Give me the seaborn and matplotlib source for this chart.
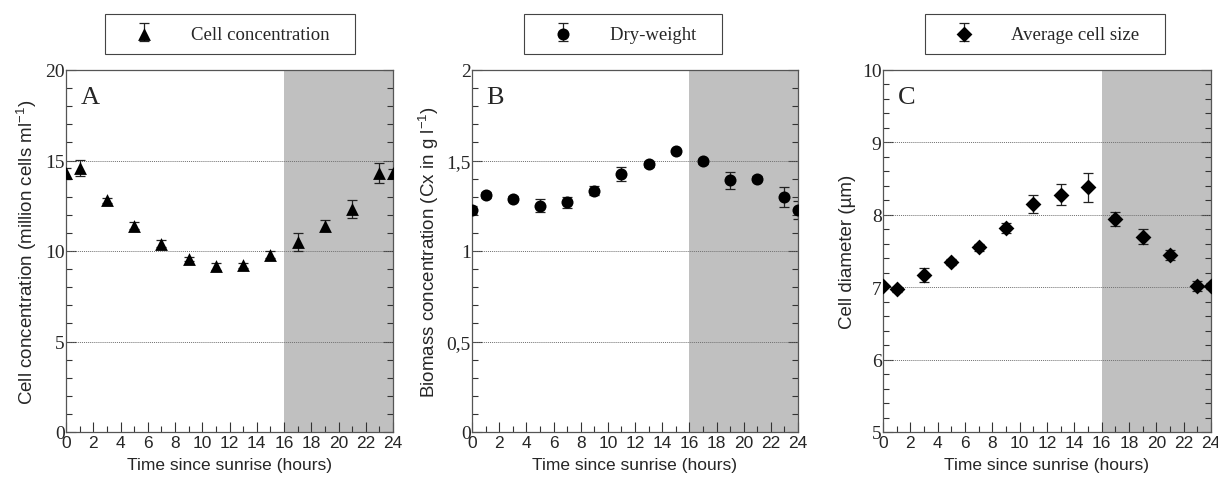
import numpy as np
import pandas as pd
import matplotlib
matplotlib.use("Agg")
import matplotlib.pyplot as plt
import matplotlib.ticker as mticker
import seaborn as sns

# data
hours = [0, 1, 3, 5, 7, 9, 11, 13, 15, 17, 19, 21, 23, 24]

cell_conc = [14.3, 14.6, 12.8, 11.4, 10.4, 9.55, 9.15, 9.2, 9.8, 10.5, 11.4, 12.3, 14.3, 14.3]
cell_conc_err = [0.3, 0.45, 0.15, 0.2, 0.2, 0.1, 0.2, 0.15, 0.2, 0.5, 0.3, 0.5, 0.57, 0.25]

dry_weight = [1.226, 1.31, 1.29, 1.25, 1.27, 1.333, 1.425, 1.48, 1.55, 1.495, 1.39, 1.40, 1.30, 1.226]
dry_weight_err = [0.02, 0.015, 0.012, 0.035, 0.03, 0.025, 0.04, 0.015, 0.01, 0.015, 0.045, 0.015, 0.055, 0.05]

cell_size = [7.02, 6.97, 7.17, 7.35, 7.55, 7.82, 8.15, 8.28, 8.38, 7.94, 7.70, 7.44, 7.02, 7.02]
cell_size_err = [0.03, 0.03, 0.1, 0.04, 0.05, 0.07, 0.13, 0.15, 0.2, 0.1, 0.11, 0.07, 0.07, 0.04]

night_start, night_end = 16, 24

sns.set_style("ticks")
plt.rcParams['font.family'] = ['Liberation Sans', 'DejaVu Sans']
plt.rcParams['mathtext.default'] = 'regular'

serif = 'Liberation Serif'

panels = [
    dict(letter='A', y=cell_conc, err=cell_conc_err, marker='^', label='Cell concentration',
         ylabel='Cell concentration (million cells ml$^{-1}$)', ylim=(0, 20), major=5, minor=1,
         grid=[5, 10, 15], left=66, width=327, leg_cx=230, ms=85, fmt=None),
    dict(letter='B', y=dry_weight, err=dry_weight_err, marker='o', label='Dry-weight',
         ylabel='Biomass concentration (Cx in g l$^{-1}$)', ylim=(0, 2), major=0.5, minor=0.1,
         grid=[0.5, 1, 1.5], left=472, width=326, leg_cx=623, ms=75, fmt='comma'),
    dict(letter='C', y=cell_size, err=cell_size_err, marker='D', label='Average cell size',
         ylabel='Cell diameter (µm)', ylim=(5, 10), major=1, minor=0.2,
         grid=[6, 7, 8, 9], left=883, width=328, leg_cx=1045, ms=65, fmt=None),
]

W, H = 1218, 481
fig = plt.figure(figsize=(W / 100, H / 100), dpi=100)

for p in panels:
    ax = fig.add_axes([p['left'] / W, (H - 433) / H, p['width'] / W, 362 / H])
    df = pd.DataFrame({'hours': hours, 'value': p['y'], 'err': p['err']})

    # night period shading + dotted guide lines
    ax.axvspan(night_start, night_end, color='#c0c0c0', lw=0, zorder=0)
    for g in p['grid']:
        ax.axhline(g, color='#707070', lw=0.7, ls=(0, (1, 1)), zorder=1)

    eb = ax.errorbar(df['hours'], df['value'], yerr=df['err'], fmt='none',
                     ecolor='#222222', elinewidth=0.9, capsize=3.5, capthick=0.9, zorder=2)
    sns.scatterplot(data=df, x='hours', y='value', marker=p['marker'], s=p['ms'],
                    color='black', edgecolor='black', linewidth=0, ax=ax, zorder=3)
    pts = ax.collections[-1]

    ax.set_xlim(0, 24)
    ax.set_ylim(*p['ylim'])
    ax.xaxis.set_major_locator(mticker.MultipleLocator(2))
    ax.xaxis.set_minor_locator(mticker.MultipleLocator(1))
    ax.yaxis.set_major_locator(mticker.MultipleLocator(p['major']))
    ax.yaxis.set_minor_locator(mticker.MultipleLocator(p['minor']))
    if p['fmt'] == 'comma':
        ax.yaxis.set_major_formatter(mticker.FuncFormatter(
            lambda v, pos: ('%g' % v).replace('.', ',')))
    else:
        ax.yaxis.set_major_formatter(mticker.FuncFormatter(lambda v, pos: '%g' % v))

    ax.tick_params(axis='both', which='both', direction='in', right=True, top=False,
                   color='#333333')
    ax.tick_params(which='major', length=7, width=0.8)
    ax.tick_params(which='minor', length=4, width=0.8)
    ax.tick_params(axis='x', labelsize=12.5, pad=2)
    ax.tick_params(axis='y', labelsize=14, pad=1)
    for lab in ax.get_yticklabels():
        lab.set_fontfamily(serif)
    for s in ax.spines.values():
        s.set_color('#555555')
        s.set_linewidth(0.9)

    ax.set_xlabel('Time since sunrise (hours)', fontsize=12.5, labelpad=5)
    ax.set_ylabel(p['ylabel'], fontsize=13.5, labelpad=4)

    ax.text(0.045, 0.955, p['letter'], transform=ax.transAxes, fontfamily=serif,
            fontsize=19, ha='left', va='top')

    leg = ax.legend(handles=[(eb, pts)], labels=[p['label'] + '   '], loc='center',
                    bbox_to_anchor=(p['leg_cx'] / W, 1 - 35 / H), bbox_transform=fig.transFigure,
                    frameon=True, fancybox=False, edgecolor='#444444', framealpha=1,
                    prop={'family': serif, 'size': 13.5}, handlelength=3.0, handletextpad=1.0,
                    borderpad=0.6, borderaxespad=0)
    leg.get_frame().set_linewidth(0.8)

fig.savefig('out.png', dpi=100)
